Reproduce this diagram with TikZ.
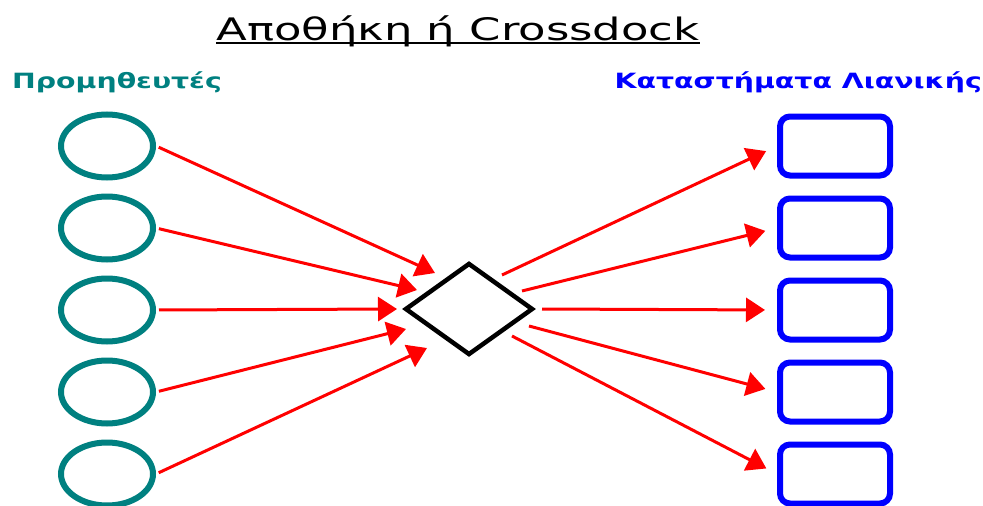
\documentclass[tikz,border=0pt]{standalone}
\usepackage{fontspec}
\setmainfont{DejaVu Sans}
\newfontfamily\widefont[FakeStretch=1.35]{DejaVu Sans}
\newfontfamily\titlefont[FakeStretch=1.45]{DejaVu Sans}
\usepackage{xcolor}
\usetikzlibrary{arrows.meta,positioning,shapes.geometric}
\definecolor{suppteal}{RGB}{0,128,128}
\definecolor{shopblue}{RGB}{0,0,255}
\definecolor{flowred}{RGB}{255,0,0}
\newcommand{\thickul}[1]{\setbox0\hbox{#1}\rlap{\rule[-4pt]{\wd0}{2pt}}\box0}

\begin{document}
\begin{tikzpicture}[
  x=1pt, y=-1pt,
  node distance=13pt,
  supp/.style={draw=suppteal, line width=6pt, ellipse, minimum width=92pt,
    minimum height=63pt, inner sep=0pt},
  shop/.style={draw=shopblue, line width=6pt, rounded corners=10pt,
    minimum width=110pt, minimum height=59pt, inner sep=0pt},
  hub/.style={draw=black, line width=4.5pt, diamond, minimum width=128pt,
    minimum height=92pt, inner sep=0pt},
  lbl/.style={font=\widefont\bfseries\fontsize{21}{21}\selectfont,
    anchor=base west, inner sep=0pt},
  arr/.style={-{Triangle[length=19pt,width=24pt]}, line width=3pt, draw=flowred}
]
  \useasboundingbox (0,0) rectangle (983,506);

  \node[font=\titlefont\fontsize{31}{31}\selectfont, anchor=base, inner sep=0pt]
    (title) at (458,40) {\thickul{Αποθήκη ή Crossdock}};
  \node[lbl, text=suppteal] (supplabel) at (12,88) {Προμηθευτές};
  \node[lbl, text=shopblue, anchor=base east] (shoplabel) at (982,88) {Καταστήματα Λιανικής};

  \node[supp] (s1) at (107,146) {};
  \node[supp, below=of s1] (s2) {};
  \node[supp, below=of s2] (s3) {};
  \node[supp, below=of s3] (s4) {};
  \node[supp, below=of s4] (s5) {};

  \node[hub] (hub) at (469,309) {};

  \node[shop] (r1) at (835,146) {};
  \node[shop, below=17pt of r1] (r2) {};
  \node[shop, below=17pt of r2] (r3) {};
  \node[shop, below=17pt of r3] (r4) {};
  \node[shop, below=17pt of r4] (r5) {};

  \coordinate (in1) at (435,273);
  \coordinate (in2) at (417,290);
  \coordinate (in3) at (397,309);
  \coordinate (in4) at (406,329);
  \coordinate (in5) at (427,348);
  \coordinate (out1) at (502,275);
  \coordinate (out2) at (522,291);
  \coordinate (out3) at (542,309);
  \coordinate (out4) at (529,326);
  \coordinate (out5) at (512,336);

  \draw[arr, shorten <=3pt] (s1.east) -- (in1);
  \draw[arr, shorten <=3pt] (s2.east) -- (in2);
  \draw[arr, shorten <=3pt] (s3.east) -- (in3);
  \draw[arr, shorten <=3pt] (s4.east) -- (in4);
  \draw[arr, shorten <=3pt] (s5.east) -- (in5);
  \draw[arr, shorten >=12pt] (out1) -- (r1.west);
  \draw[arr, shorten >=12pt] (out2) -- (r2.west);
  \draw[arr, shorten >=12pt] (out3) -- (r3.west);
  \draw[arr, shorten >=12pt] (out4) -- (r4.west);
  \draw[arr, shorten >=12pt] (out5) -- (r5.west);
\end{tikzpicture}
\end{document}
